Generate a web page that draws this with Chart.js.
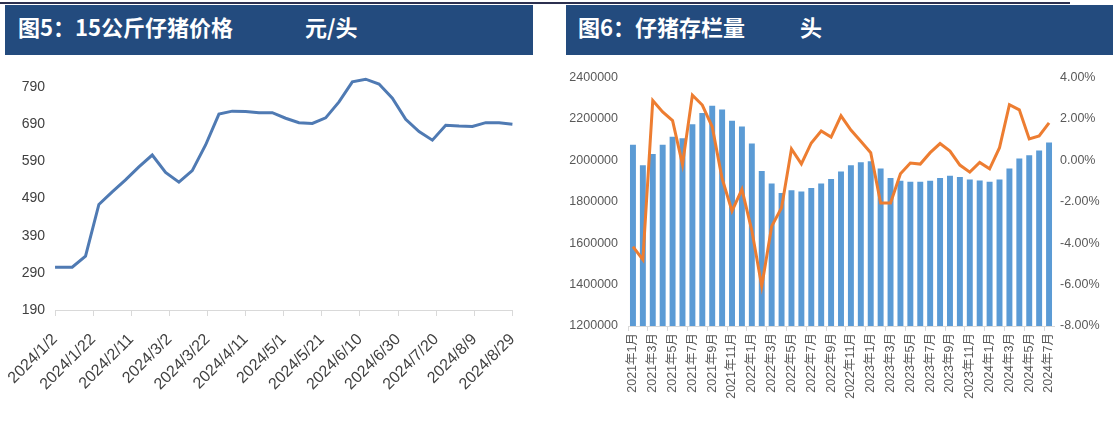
<!DOCTYPE html>
<html>
<head>
<meta charset="utf-8">
<script src="https://cdn.jsdelivr.net/npm/chart.js@4.4.1/dist/chart.umd.min.js"></script>
<style>
  body { margin:0; width:1119px; height:430px; background:#fff; position:relative; overflow:hidden; }
  .topline { position:absolute; left:0; top:2px; width:1070px; height:2px; background:#2c3050; }
  .bar { position:absolute; top:5px; height:50px; background:#234b7e; color:#fff;
         font-family:"Noto Sans CJK SC", sans-serif; font-weight:bold; font-size:22px; line-height:42px; white-space:pre; }
  #t1 { left:5px; width:528px; }
  #t2 { left:566px; width:547px; }
  .bar span { position:absolute; top:0; }
  canvas { position:absolute; }
  #c1 { left:-3px; top:60px; }
  #c2 { left:560px; top:60px; }
</style>
</head>
<body>
<div class="topline"></div>
<div class="bar" id="t1"><span style="left:13px">图5：15公斤仔猪价格</span><span style="left:300px">元/头</span></div>
<div class="bar" id="t2"><span style="left:12px">图6：仔猪存栏量</span><span style="left:234px">头</span></div>
<canvas id="c1" width="543" height="370"></canvas>
<canvas id="c2" width="559" height="370"></canvas>
<script>
// ---------- 图5 数据：15公斤仔猪价格（元/头） ----------
const priceDates = [
  "2024/1/2", "2024/1/11", "2024/1/18", "2024/1/25", "2024/2/1", "2024/2/8", "2024/2/15",
  "2024/2/22", "2024/2/29", "2024/3/7", "2024/3/14", "2024/3/21", "2024/3/28", "2024/4/4",
  "2024/4/11", "2024/4/18", "2024/4/25", "2024/5/2", "2024/5/9", "2024/5/16", "2024/5/23",
  "2024/5/30", "2024/6/6", "2024/6/13", "2024/6/20", "2024/6/27", "2024/7/4", "2024/7/11",
  "2024/7/18", "2024/7/25", "2024/8/1", "2024/8/8", "2024/8/15", "2024/8/22", "2024/8/29"
];
const priceValues = [
  305, 305, 335, 474, 508, 540, 575,
  607, 560, 534, 565, 634, 717, 725,
  724, 721, 721, 706, 694, 692, 707,
  750, 804, 811, 798, 760, 703, 670,
  647, 687, 685, 684, 694, 694, 690
];
const priceTickLabels = [
  "2024/1/2", "2024/1/22", "2024/2/11", "2024/3/2", "2024/3/22", "2024/4/11", "2024/5/1",
  "2024/5/21", "2024/6/10", "2024/6/30", "2024/7/20", "2024/8/9", "2024/8/29"
];

// ---------- 图6 数据：仔猪存栏量（头）与环比 ----------
const monthLabels = [
  "2021年1月", "2021年2月", "2021年3月", "2021年4月", "2021年5月", "2021年6月",
  "2021年7月", "2021年8月", "2021年9月", "2021年10月", "2021年11月", "2021年12月",
  "2022年1月", "2022年2月", "2022年3月", "2022年4月", "2022年5月", "2022年6月",
  "2022年7月", "2022年8月", "2022年9月", "2022年10月", "2022年11月", "2022年12月",
  "2023年1月", "2023年2月", "2023年3月", "2023年4月", "2023年5月", "2023年6月",
  "2023年7月", "2023年8月", "2023年9月", "2023年10月", "2023年11月", "2023年12月",
  "2024年1月", "2024年2月", "2024年3月", "2024年4月", "2024年5月", "2024年6月", "2024年7月"
];
const stockValues = [
  2075000, 1976000, 2031000, 2075000, 2114000, 2107000,
  2174000, 2229000, 2264000, 2246000, 2191000, 2163000,
  2081000, 1948000, 1888000, 1842000, 1855000, 1849000,
  1866000, 1888000, 1910000, 1946000, 1976000, 1991000,
  1996000, 1960000, 1915000, 1902000, 1897000, 1897000,
  1902000, 1915000, 1925000, 1919000, 1908000, 1903000,
  1897000, 1908000, 1960000, 2009000, 2025000, 2047000, 2086000
];
const changePct = [
  -4.17, -4.80, 2.89, 2.34, 1.92, -0.20,
  3.15, 2.67, 1.62, -0.88, -2.45, -1.40,
  -3.39, -6.08, -3.19, -2.29, 0.55, -0.17,
  0.84, 1.42, 1.12, 2.15, 1.46, 0.92,
  0.37, -2.06, -2.06, -0.65, -0.13, -0.18,
  0.37, 0.81, 0.45, -0.23, -0.57, -0.10,
  -0.41, 0.61, 2.69, 2.44, 1.03, 1.18, 1.81
];

// ---------- Helpers ----------
const START = new Date(2024, 0, 2);
function dayOffset(s) {
  const [y, m, d] = s.split("/").map(Number);
  return Math.round((new Date(y, m - 1, d) - START) / 86400000);
}
const tickDays = priceTickLabels.map(dayOffset);

const numFont = { family: "'Liberation Sans Narrow', 'Liberation Sans', sans-serif", size: 14 };
const dateFont = { family: "'Liberation Sans Narrow', 'Liberation Sans', sans-serif", size: 16 };
const axisGray = "#d9d9d9";

// ---------- 图5 ----------
new Chart(document.getElementById("c1"), {
  type: "line",
  data: {
    datasets: [{
      data: priceDates.map((d, i) => ({ x: dayOffset(d), y: priceValues[i] })),
      borderColor: "#4f7ab3",
      borderWidth: 3,
      pointRadius: 0,
      tension: 0,
      clip: false
    }]
  },
  options: {
    responsive: false,
    animation: false,
    layout: { padding: { top: 27, right: 27, left: 0, bottom: 0 } },
    plugins: { legend: { display: false }, tooltip: { enabled: false } },
    scales: {
      x: {
        type: "linear",
        min: 0, max: 240,
        afterBuildTicks: axis => { axis.ticks = tickDays.map(v => ({ value: v })); },
        ticks: {
          minRotation: 45, maxRotation: 45, autoSkip: false,
          color: "#404040", font: dateFont, padding: 14,
          callback: (v) => priceTickLabels[tickDays.indexOf(v)]
        },
        grid: { drawOnChartArea: false, color: axisGray, tickLength: 6 },
        border: { color: axisGray },
        afterFit: s => { s.height = 120; }
      },
      y: {
        min: 190, max: 790,
        ticks: { stepSize: 100, color: "#404040", font: numFont, padding: 10 },
        grid: { display: false, drawTicks: false },
        border: { display: false },
        afterFit: s => { s.width = 58; }
      }
    }
  }
});

// ---------- 图6 ----------
const smallFont = { family: "'Liberation Sans', sans-serif", size: 12.5 };
new Chart(document.getElementById("c2"), {
  type: "bar",
  data: {
    labels: monthLabels,
    datasets: [
      {
        type: "line",
        data: changePct,
        yAxisID: "y1",
        borderColor: "#ed7d31",
        borderWidth: 3,
        pointRadius: 0,
        tension: 0,
        order: 0
      },
      {
        type: "bar",
        data: stockValues,
        yAxisID: "y",
        backgroundColor: "#5b9bd5",
        barPercentage: 0.6,
        categoryPercentage: 1,
        order: 1
      }
    ]
  },
  options: {
    responsive: false,
    animation: false,
    layout: { padding: { top: 11, right: 0, left: 0, bottom: 0 } },
    plugins: { legend: { display: false }, tooltip: { enabled: false } },
    scales: {
      x: {
        ticks: {
          autoSkip: false, minRotation: 90, maxRotation: 90,
          color: "#595959", font: { family: "'Liberation Sans', 'Noto Sans CJK SC', sans-serif", size: 12.5 },
          padding: 2,
          callback: (v, i) => (i % 2 === 0 ? monthLabels[i] : "")
        },
        grid: {
          drawOnChartArea: false, tickLength: 5,
          color: ctx => (ctx.index % 2 === 0 ? axisGray : "rgba(0,0,0,0)")
        },
        border: { color: axisGray },
        afterFit: s => { s.height = 104; }
      },
      y: {
        position: "left",
        min: 1200000, max: 2400000,
        ticks: { stepSize: 200000, color: "#595959", font: smallFont, padding: 10,
                 callback: v => String(v) },
        grid: { display: false, drawTicks: false },
        border: { display: false },
        afterFit: s => { s.width = 68; }
      },
      y1: {
        position: "right",
        min: -8, max: 4,
        ticks: { stepSize: 2, color: "#595959", font: smallFont, padding: 6,
                 callback: v => v.toFixed(2) + "%" },
        grid: { display: false, drawTicks: false },
        border: { display: false },
        afterFit: s => { s.width = 65; }
      }
    }
  }
});
</script>
</body>
</html>
